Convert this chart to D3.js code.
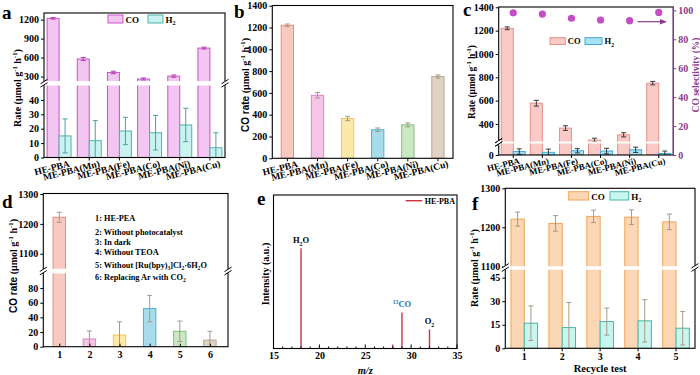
<!DOCTYPE html>
<html>
<head>
<meta charset="utf-8">
<script src="https://cdn.jsdelivr.net/npm/d3@7"></script>
<style>
  body { margin: 0; background: #fff; }
  svg text { font-family: "Liberation Serif", "Times New Roman", serif; font-weight: bold; }
</style>
</head>
<body>
<svg id="fig" width="700" height="375"></svg>
<script>
// ---- data ----
const catalysts = ["HE-PBA", "ME-PBA(Mn)", "ME-PBA(Fe)", "ME-PBA(Co)", "ME-PBA(Ni)", "ME-PBA(Cu)"];
const coRate = [1220, 578, 365, 262, 307, 750];
const coErr = [12, 25, 20, 16, 18, 15];
const h2Rate = [15, 11.7, 18.4, 17.2, 22.6, 6.8];
const h2Err = [11.8, 13.9, 9.5, 12, 11.6, 10.4];
const coSelectivity = [98.3, 97.4, 94.5, 93.3, 92.8, 98.5];

const controlIds = [1, 2, 3, 4, 5, 6];
const controlRate = [1222, 10.5, 16, 52, 21, 9];
const controlErr = [17, 11, 18, 18, 14, 12];
const controlNames = [
  ["1: HE-PEA"],
  ["2: Without photocatalyst"],
  ["3: In dark"],
  ["4: Without TEOA"],
  ["5: Without  [Ru(bpy)", ["3", "sub"], "]Cl", ["2", "sub"], "·6H", ["2", "sub"], "O"],
  ["6: Replacing Ar with CO", ["2", "sub"]]
];

const mzPeaks = [18, 28, 29, 32];
const mzIntensity = [100, 4, 36, 19];
const mzTicks = d3.range(15, 36);

const cycles = ["1", "2", "3", "4", "5"];
const cycleCO = [1221, 1210, 1228, 1226, 1214];
const cycleCOErr = [18, 20, 16, 19, 20];
const cycleH2 = [16, 13.2, 17, 17.5, 12.8];
const cycleH2Err = [11, 16, 8.6, 13.5, 10.7];

// per-sample palette used in b and d
const sampleFill = ["#f8c9c0", "#f5c5e8", "#fce8a8", "#a9dcea", "#cbe8c4", "#dfd3c5"];
const sampleStroke = ["#e98a80", "#dc86c8", "#f2c35c", "#4eb2cf", "#7fc277", "#bba893"];

const svg = d3.select("#fig");
const SANS = '"Liberation Sans", Arial, sans-serif';
const PURPLE = "#8b3a8b";
const fmt = d3.format("d");

// text with sub/superscript pieces
function rich(text, parts, size) {
  let off = 0;
  parts.forEach(p => {
    const [str, kind] = typeof p === "string" ? [p, ""] : p;
    const target = kind === "sub" ? size * 0.3 : kind === "sup" ? -size * 0.4 : 0;
    const t = text.append("tspan")
      .attr("dy", target - off)
      .attr("font-size", kind && kind !== "sans" ? size * 0.68 : size)
      .text(str);
    if (kind === "sans") t.attr("font-family", SANS);
    off = kind === "sans" ? 0 : target;
  });
  return text;
}

const rateUnit = [" (μmol g", ["-1", "sup"], " h", ["-1", "sup"], ")"];

function yLabel(x, y, parts, size, color) {
  const t = svg.append("text")
    .attr("transform", `translate(${x},${y}) rotate(-90)`)
    .attr("text-anchor", "middle")
    .attr("fill", color || "#000");
  rich(t, parts, size);
}

function panelLetter(x, y, s) {
  svg.append("text").attr("x", x).attr("y", y).attr("font-size", 19).text(s);
}

function frame(g, f) {
  g.append("rect")
    .attr("x", f.l).attr("y", f.t)
    .attr("width", f.r - f.l).attr("height", f.b - f.t)
    .attr("fill", "none").attr("stroke", "#000").attr("stroke-width", 1.1);
}

function breakMarks(g, f, y) {
  [f.l, f.r].forEach(x => {
    g.append("rect").attr("x", x - 2).attr("y", y - 2).attr("width", 4).attr("height", 4).attr("fill", "#fff");
    [-1.7, 1.7].forEach(d => {
      g.append("line")
        .attr("x1", x - 3.5).attr("x2", x + 3.5)
        .attr("y1", y + d + 2.2).attr("y2", y + d - 2.2)
        .attr("stroke", "#000").attr("stroke-width", 1);
    });
  });
}

// bars drawn segment by segment (broken axis), clipped to each segment
function drawSegments(g, id, f, segs, bars) {
  segs.forEach((seg, si) => {
    const s = seg.scale;
    const [yb, yt] = s.range();
    const [lo, hi] = s.domain();
    const cid = `${id}-clip${si}`;
    g.append("clipPath").attr("id", cid).append("rect")
      .attr("x", f.l).attr("y", yt).attr("width", f.r - f.l).attr("height", yb - yt);
    const sg = g.append("g").attr("clip-path", `url(#${cid})`);
    const top = d => d.v > hi ? yt - 5 : s(d.v);
    sg.selectAll("rect")
      .data(bars.filter(d => d.v > lo))
      .join("rect")
        .attr("x", d => d.x)
        .attr("width", d => d.w)
        .attr("y", top)
        .attr("height", d => (si === 0 ? yb : yb + 5) - top(d))
        .attr("fill", d => d.fill)
        .attr("stroke", d => d.stroke)
        .attr("stroke-width", 1);
    const eg = sg.selectAll("g.err")
      .data(bars.filter(d => d.v > lo && d.v <= hi))
      .join("g")
        .attr("class", "err")
        .attr("stroke", d => d.err)
        .attr("stroke-width", 1);
    eg.append("line")
      .attr("x1", d => d.x + d.w / 2).attr("x2", d => d.x + d.w / 2)
      .attr("y1", d => s(d.v - d.e)).attr("y2", d => s(d.v + d.e));
    [-1, 1].forEach(k => {
      eg.append("line")
        .attr("x1", d => d.x + d.w / 2 - 2.5).attr("x2", d => d.x + d.w / 2 + 2.5)
        .attr("y1", d => s(d.v + k * d.e)).attr("y2", d => s(d.v + k * d.e));
    });
    // y axis for this segment
    g.append("g")
      .attr("transform", `translate(${f.l},0)`)
      .attr("font-size", seg.fontSize || 9.5)
      .call(d3.axisLeft(s).tickValues(seg.ticks).tickFormat(fmt).tickSize(3).tickPadding(2))
      .call(a => a.select(".domain").remove());
  });
}

function catTicks(g, f, centers, inward) {
  g.selectAll("line.ct").data(centers).join("line")
    .attr("class", "ct")
    .attr("x1", d => d).attr("x2", d => d)
    .attr("y1", f.b).attr("y2", f.b + (inward ? -3 : 3))
    .attr("stroke", "#000");
}

function rotatedLabels(g, f, centers, labels, dx, dy, size, angle) {
  g.selectAll("text.cl").data(labels).join("text")
    .attr("class", "cl")
    .attr("text-anchor", "end")
    .attr("font-size", size)
    .attr("transform", (d, i) => `translate(${centers[i] + dx},${f.b + dy}) rotate(${angle})`)
    .text(d => d);
}

function legendSwatch(g, x, y, w, h, fill, stroke, parts, size) {
  g.append("rect").attr("x", x).attr("y", y).attr("width", w).attr("height", h)
    .attr("fill", fill).attr("stroke", stroke).attr("stroke-width", 1);
  rich(g.append("text").attr("x", x + w + 2.5).attr("y", y + h - 0.5), parts, size);
}

// ================= panel a =================
{
  const f = {l: 44, r: 225, t: 13, b: 157.5};
  const g = svg.append("g");
  const x0 = d3.scaleBand().domain(catalysts).range([f.l, f.r]);
  const x1 = d3.scaleBand().domain(["CO", "H2"]).range([0, x0.bandwidth()]).paddingOuter(0.26);
  const segs = [
    {scale: d3.scaleLinear().domain([0, 50]).range([f.b, 85.5]), ticks: [0, 10, 20, 30, 40]},
    {scale: d3.scaleLinear().domain([230, 1300]).range([81, 13.3]), ticks: [300, 600, 900, 1200]}
  ];
  const bars = catalysts.flatMap((c, i) => [
    {x: x0(c) + x1("CO"), w: x1.bandwidth(), v: coRate[i], e: coErr[i], fill: "#f3c6f1", stroke: "#c953c6", err: "#b93ab5"},
    {x: x0(c) + x1("H2"), w: x1.bandwidth(), v: h2Rate[i], e: h2Err[i], fill: "#c9f3ef", stroke: "#4fb3ad", err: "#4a9fa6"}
  ]);
  drawSegments(g, "pa", f, segs, bars);
  frame(g, f);
  breakMarks(g, f, 83.2);
  const centers = catalysts.map(c => x0(c) + x0.bandwidth() / 2);
  catTicks(g, f, centers, false);
  rotatedLabels(g, f, centers, catalysts, 11, 9, 9.5, -14);
  legendSwatch(g, 108, 15, 15, 8, "#f3c6f1", "#c953c6", ["CO"], 9);
  legendSwatch(g, 148, 15, 15, 8, "#c9f3ef", "#4fb3ad", ["H", ["2", "sub"]], 9);
  yLabel(21, 88, ["Rate", ...rateUnit], 10);
  panelLetter(2, 19, "a");
}

// ================= panel b =================
{
  const f = {l: 272.3, r: 453, t: 5.5, b: 158.3};
  const g = svg.append("g");
  const x0 = d3.scaleBand().domain(catalysts).range([f.l, f.r]);
  const y = d3.scaleLinear().domain([0, 1400]).range([f.b, 5.7]);
  const bw = 12.3;
  const bars = catalysts.map((c, i) => ({
    x: x0(c) + x0.bandwidth() / 2 - bw / 2, w: bw, v: coRate[i], e: coErr[i],
    fill: sampleFill[i], stroke: sampleStroke[i], err: "#a8998a"
  }));
  drawSegments(g, "pb", f, [{scale: y, ticks: d3.range(0, 1401, 200)}], bars);
  frame(g, f);
  const centers = catalysts.map(c => x0(c) + x0.bandwidth() / 2);
  catTicks(g, f, centers, false);
  rotatedLabels(g, f, centers, catalysts, 11, 8.5, 9.5, -14);
  yLabel(249, 85, [["CO rate", "sans"], ...rateUnit], 10);
  panelLetter(234, 18, "b");
}

// ================= panel c =================
{
  const f = {l: 498.7, r: 673.3, t: 7, b: 155};
  const g = svg.append("g");
  const x0 = d3.scaleBand().domain(catalysts).range([f.l, f.r]);
  const x1 = d3.scaleBand().domain(["CO", "H2"]).range([0, x0.bandwidth()]).paddingOuter(0.21);
  const segs = [
    {scale: d3.scaleLinear().domain([0, 50]).range([f.b, 143.5]), ticks: [0], fontSize: 9},
    {scale: d3.scaleLinear().domain([250, 1400]).range([141.5, 7.3]), ticks: d3.range(400, 1401, 200), fontSize: 9}
  ];
  const bars = catalysts.flatMap((c, i) => [
    {x: x0(c) + x1("CO"), w: x1.bandwidth(), v: coRate[i], e: coErr[i], fill: "#f9cac6", stroke: "#e5908c", err: "#3a3a3a"},
    {x: x0(c) + x1("H2"), w: x1.bandwidth(), v: h2Rate[i], e: h2Err[i], fill: "#a9e2f3", stroke: "#3fa9d4", err: "#3a3a3a"}
  ]);
  drawSegments(g, "pc", f, segs, bars);
  frame(g, f);
  breakMarks(g, {l: f.l, r: f.l}, 142.3);
  // right axis: selectivity
  const yr = d3.scaleLinear().domain([0, 100]).range([f.b, 10.3]);
  g.append("line").attr("x1", f.r).attr("x2", f.r).attr("y1", f.t).attr("y2", f.b)
    .attr("stroke", PURPLE).attr("stroke-width", 1.3);
  g.append("g")
    .attr("transform", `translate(${f.r},0)`)
    .attr("font-size", 9)
    .attr("color", PURPLE)
    .call(d3.axisRight(yr).tickValues(d3.range(0, 101, 20)).tickFormat(fmt).tickSize(3).tickPadding(2))
    .call(a => a.select(".domain").remove());
  const centers = catalysts.map(c => x0(c) + x0.bandwidth() / 2);
  g.selectAll("circle.sel").data(coSelectivity).join("circle")
    .attr("class", "sel")
    .attr("cx", (d, i) => centers[i])
    .attr("cy", d => yr(d))
    .attr("r", 3.6)
    .attr("fill", "#c44dc4");
  // arrow pointing to right axis
  g.append("defs").append("marker")
    .attr("id", "arr").attr("viewBox", "0 0 10 10").attr("refX", 9).attr("refY", 5)
    .attr("markerWidth", 6).attr("markerHeight", 6).attr("orient", "auto")
    .append("path").attr("d", "M0,1L10,5L0,9Z").attr("fill", PURPLE);
  g.append("line").attr("x1", 637.7).attr("x2", 666).attr("y1", 21.7).attr("y2", 21.7)
    .attr("stroke", PURPLE).attr("stroke-width", 1.2).attr("marker-end", "url(#arr)");
  catTicks(g, f, centers, false);
  rotatedLabels(g, f, centers, catalysts, 7, 8.5, 8.8, -14);
  legendSwatch(g, 550, 37.7, 15.3, 6.8, "#f9cac6", "#e5908c", ["CO"], 8.5);
  legendSwatch(g, 585, 37.7, 17, 6.8, "#a9e2f3", "#3fa9d4", ["H", ["2", "sub"]], 8.5);
  yLabel(475, 82, ["Rate", ...rateUnit], 9.5);
  yLabel(699, 75, ["CO selectivity (%)"], 9.5, PURPLE);
  panelLetter(463, 16, "c");
}

// ================= panel d =================
{
  const f = {l: 43.3, r: 228, t: 193.5, b: 346.7};
  const g = svg.append("g");
  const x = d3.scaleLinear().domain([0.47, 6.6]).range([f.l, f.r]);
  const segs = [
    {scale: d3.scaleLinear().domain([0, 100]).range([f.b, 273.4]), ticks: [0, 20, 40, 60, 80]},
    {scale: d3.scaleLinear().domain([1050, 1300]).range([268.7, 194]), ticks: [1100, 1200, 1300]}
  ];
  const bw = 12.4;
  const bars = controlIds.map((c, i) => ({
    x: x(c) - bw / 2, w: bw, v: controlRate[i], e: controlErr[i],
    fill: sampleFill[i], stroke: sampleStroke[i], err: "#a8998a"
  }));
  drawSegments(g, "pd", f, segs, bars);
  frame(g, f);
  breakMarks(g, f, 271);
  g.append("g")
    .attr("transform", `translate(0,${f.b})`)
    .attr("font-size", 10)
    .call(d3.axisBottom(x).tickValues(controlIds).tickFormat(fmt).tickSize(-3).tickPadding(4))
    .call(a => a.select(".domain").remove());
  const lineY = [221, 234.5, 244.5, 254.5, 268, 280];
  controlNames.forEach((parts, i) => {
    rich(g.append("text").attr("x", 95).attr("y", lineY[i]), parts, 8.3);
  });
  yLabel(17, 266, [["CO rate", "sans"], ...rateUnit], 10);
  panelLetter(2, 208, "d");
}

// ================= panel e =================
{
  const f = {l: 273.5, r: 457, t: 195, b: 348.5};
  const g = svg.append("g");
  const x = d3.scaleLinear().domain([15, 35]).range([f.l, f.r]);
  const y = d3.scaleLinear().domain([0, 153]).range([f.b, f.t]);
  const RED = "#cc3340";
  g.selectAll("line.pk").data(mzPeaks).join("line")
    .attr("class", "pk")
    .attr("x1", d => x(d)).attr("x2", d => x(d))
    .attr("y1", y(0)).attr("y2", (d, i) => y(mzIntensity[i]))
    .attr("stroke", RED).attr("stroke-width", 1.4);
  // inward ticks on every integer, longer on the labelled ones
  g.selectAll("line.mt").data(mzTicks).join("line")
    .attr("class", "mt")
    .attr("x1", d => x(d)).attr("x2", d => x(d))
    .attr("y1", f.b).attr("y2", d => f.b - (d % 5 === 0 ? 4 : 2))
    .attr("stroke", "#000");
  frame(g, f);
  g.append("g")
    .attr("transform", `translate(0,${f.b})`)
    .attr("font-size", 10)
    .call(d3.axisBottom(x).tickValues(d3.range(15, 36, 5)).tickSize(0).tickPadding(3))
    .call(a => a.select(".domain").remove());
  const peakText = [
    {m: 18, v: 100, parts: ["H", ["2", "sub"], "O"], color: "#000"},
    {m: 29, v: 36, parts: [["13", "sup"], "CO"], color: "#2e6e9e"},
    {m: 32, v: 19, parts: ["O", ["2", "sub"]], color: "#000"}
  ];
  peakText.forEach(p => {
    rich(g.append("text").attr("x", x(p.m)).attr("y", y(p.v) - 5).attr("text-anchor", "middle").attr("fill", p.color), p.parts, 8.5);
  });
  g.append("line").attr("x1", 405.7).attr("x2", 422.3).attr("y1", 200.7).attr("y2", 200.7)
    .attr("stroke", RED).attr("stroke-width", 1.4);
  g.append("text").attr("x", 424.7).attr("y", 203.5).attr("font-size", 8).text("HE-PBA");
  g.append("text").attr("x", (f.l + f.r) / 2).attr("y", 373.5).attr("text-anchor", "middle")
    .attr("font-size", 10.5).attr("font-style", "italic").attr("font-family", SANS).text("m/z");
  yLabel(268.5, 274, ["Intensity (a.u.)"], 10);
  panelLetter(257, 205, "e");
}

// ================= panel f =================
{
  const f = {l: 505.3, r: 695, t: 188.3, b: 348.3};
  const g = svg.append("g");
  const x0 = d3.scaleBand().domain(cycles).range([f.l, f.r]);
  const x1 = d3.scaleBand().domain(["CO", "H2"]).range([0, x0.bandwidth()]).paddingOuter(0.426);
  const segs = [
    {scale: d3.scaleLinear().domain([0, 50]).range([f.b, 269.8]), ticks: [0, 15, 30, 45]},
    {scale: d3.scaleLinear().domain([1100, 1300]).range([266.3, 188.3]), ticks: [1100, 1200, 1300]}
  ];
  const bars = cycles.flatMap((c, i) => [
    {x: x0(c) + x1("CO"), w: x1.bandwidth(), v: cycleCO[i], e: cycleCOErr[i], fill: "#fcd7b5", stroke: "#f0a455", err: "#a8998a"},
    {x: x0(c) + x1("H2"), w: x1.bandwidth(), v: cycleH2[i], e: cycleH2Err[i], fill: "#c9f5ef", stroke: "#45b7a8", err: "#a8998a"}
  ]);
  drawSegments(g, "pf", f, segs, bars);
  frame(g, f);
  breakMarks(g, f, 267.5);
  g.append("g")
    .attr("transform", `translate(0,${f.b})`)
    .attr("font-size", 10)
    .call(d3.axisBottom(x0).tickSize(3).tickPadding(2))
    .call(a => a.select(".domain").remove());
  legendSwatch(g, 568.7, 191.7, 20, 8.3, "#fcd7b5", "#f0a455", ["CO"], 9);
  legendSwatch(g, 610, 191.7, 18.7, 8.3, "#c9f5ef", "#45b7a8", ["H", ["2", "sub"]], 9);
  g.append("text").attr("x", (f.l + f.r) / 2).attr("y", 372).attr("text-anchor", "middle")
    .attr("font-size", 10.5).text("Recycle test");
  yLabel(478, 268, ["Rate", ...rateUnit], 10);
  panelLetter(472, 210, "f");
}
</script>
</body>
</html>
